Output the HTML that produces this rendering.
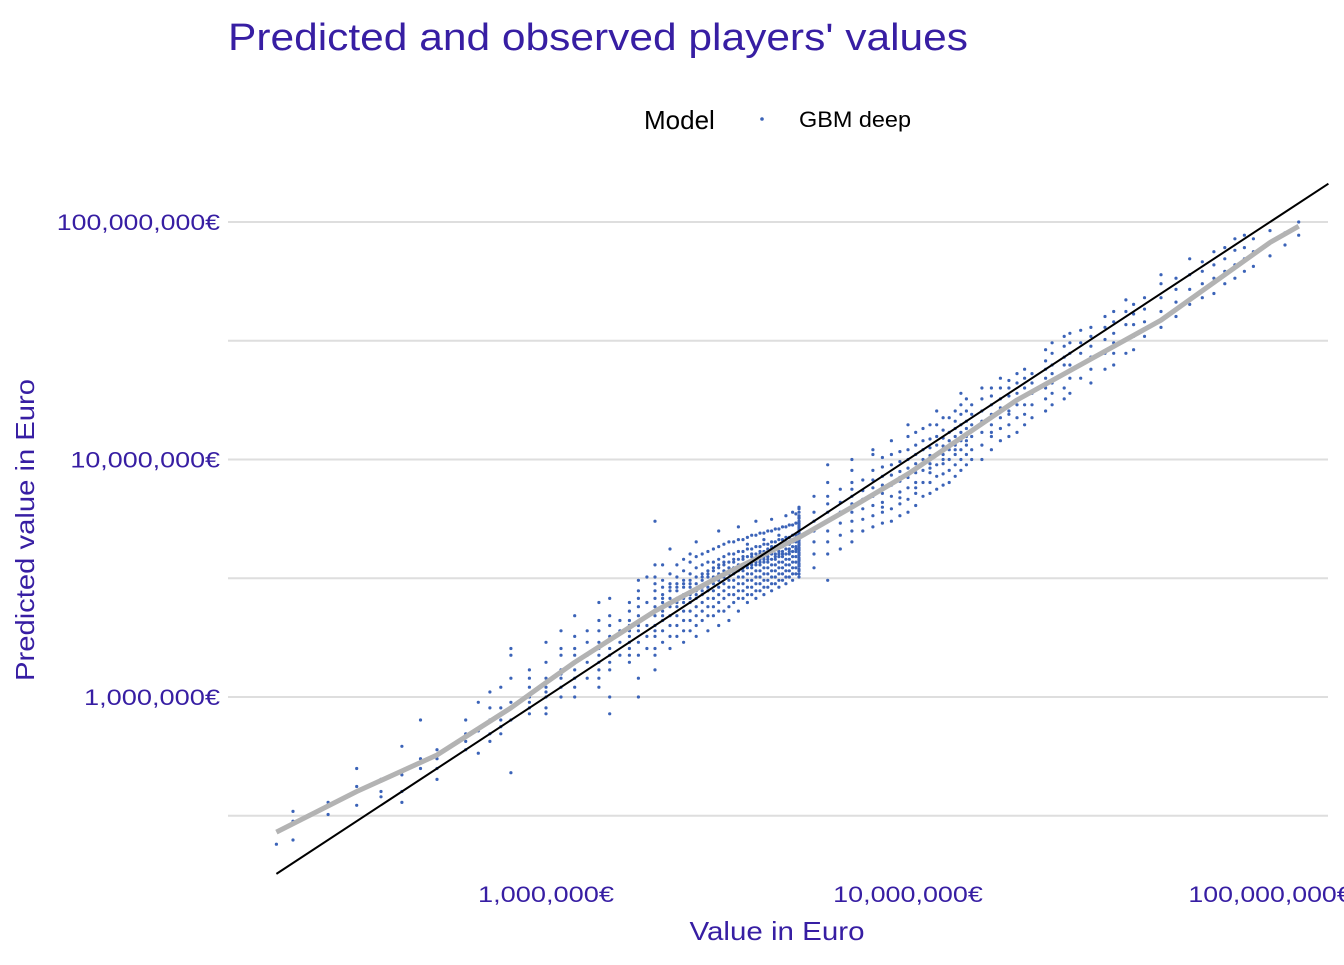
<!DOCTYPE html>
<html><head><meta charset="utf-8"><style>
body{margin:0;background:#fff;width:1344px;height:960px;overflow:hidden}
svg text{font-family:"Liberation Sans",Arial,sans-serif}
</style></head><body>
<svg width="1344" height="960" viewBox="0 0 1344 960">
<text x="228" y="50" font-size="38" textLength="740" lengthAdjust="spacingAndGlyphs" fill="#371ea3">Predicted and observed players' values</text>
<text x="644" y="129" font-size="26" fill="#000">Model</text>
<circle cx="762" cy="119" r="1.8" fill="#3b63b8"/>
<text x="799" y="127" font-size="22" textLength="112" lengthAdjust="spacingAndGlyphs" fill="#000">GBM deep</text>
<g id="grid"></g>
<g id="pts"></g>
<g id="lines"></g>
<g id="ticks"></g>
<text x="777" y="940" font-size="26" textLength="175" lengthAdjust="spacingAndGlyphs" fill="#371ea3" text-anchor="middle">Value in Euro</text>
<text transform="translate(34,530) rotate(-90)" font-size="26" textLength="302" lengthAdjust="spacingAndGlyphs" fill="#371ea3" text-anchor="middle">Predicted value in Euro</text>
</svg>
<script>
const majorTicks=[1e6,1e7,1e8];
const majorLabels=["1,000,000€","10,000,000€","100,000,000€"];
const minorTicks=[3.162e5,3.162e6,3.162e7];
const obsCols=[0.18,0.2,0.25,0.3,0.35,0.4,0.45,0.5,0.6,0.65,0.7,0.75,0.8,0.9,1.0,1.1,1.2,1.3,1.4,1.5,1.6,1.7,1.8,1.9,2.0,2.2,2.4,2.6,2.8,3.0,3.2,3.4,3.6,3.8,4.0,4.2,4.4,4.6,4.8,5.0,5.5,6.0,6.5,7.0,7.5,8.0,9.0,10,11,12,13,14,15,16,18,20,22,25,28,30,35,40,45,50,60,70,80,90,100,110,120,
2.1,2.3,2.5,2.7,2.9,3.1,3.3,3.5,3.7,3.9,4.1,4.3,4.5,4.7,4.9,5.0,8.5,9.5,10.5,11.5,12.5,13.5,14.5,17,19,21,24,27,32,37,42,55,65,75,85];
const predCols=[[0.24],[0.25,0.3,0.33],[0.32,0.36],[0.5,0.35,0.42],[0.38,0.45,0.4],[0.62,0.4,0.47,0.36],[0.8,0.55,0.5],[0.55,0.6,0.45,0.5],[0.6,0.7,0.8,0.65],[0.95,0.58,0.72],[1.05,0.8,0.7,0.9,0.65],[0.8,0.9,1.1,0.75,0.7,0.85],[1.5,1.6,0.9,0.8,0.48,0.95,1.2],[0.95,1.0,1.1,1.2,1.3,0.85,0.9],[1.2,1.4,1.1,1.0,0.9,0.85,1.05,1.7],[1.5,1.3,1.6,1.2,1.0,1.9,1.1,1.25],[2.2,1.8,1.4,1.5,1.3,1.2,1.1,1.0,1.6],[1.2,1.4,1.5,1.7,1.9],[2.5,1.9,1.7,1.6,1.5,1.4,1.3,1.2,1.1,2.1],[2.6,2.2,2.0,1.8,1.6,1.5,1.4,1.3,1.0,0.85],[1.5,1.7,1.9,2.1],[2.5,2.3,2.1,2.0,1.9,1.8,1.7,1.6,1.5,1.4],[3.1,2.8,2.4,2.2,2.0,1.9,1.7,1.5,1.2,1.0,2.6],[3.2,2.5,2.2,2.0,1.8,1.6],[5.5,3.6,3.2,3.0,2.8,2.6,2.4,2.2,2.0,1.9,1.8,1.6,1.5,1.3],
[2.0,2.2,2.4,2.6,2.8,3.0,3.3,1.8,1.6,4.2,2.5,2.9],[2.1,2.3,2.5,2.7,2.9,3.1,3.4,3.8,1.9,1.7,2.6,3.0],[2.2,2.4,2.6,2.8,3.0,3.2,3.5,3.9,4.5,2.0,1.8,2.7],[2.4,2.6,2.8,3.0,3.2,3.4,3.7,4.1,2.2,1.9,2.9,3.3],[2.5,2.7,2.9,3.1,3.3,3.5,3.8,4.3,5.0,2.3,2.0,3.2,3.6],[2.7,2.9,3.1,3.3,3.5,3.7,4.0,4.5,2.4,2.1,3.4],[2.8,3.0,3.2,3.4,3.6,3.8,4.1,4.6,5.2,2.6,2.3,3.5],[2.9,3.1,3.3,3.5,3.7,3.9,4.2,4.7,2.7,2.5,3.6,4.4],[3.0,3.2,3.4,3.6,3.8,4.0,4.3,4.8,5.5,2.8,2.6,3.7],[3.1,3.3,3.5,3.7,3.9,4.1,4.4,4.9,2.9,2.7,3.8,4.6],[3.2,3.4,3.6,3.8,4.0,4.2,4.5,5.0,5.6,3.0,2.8,4.3],[3.3,3.5,3.7,3.9,4.1,4.3,4.6,5.1,3.1,2.9,4.0,4.8],[3.4,3.6,3.8,4.0,4.2,4.4,4.7,5.2,5.8,3.2,3.0,4.5],[3.5,3.7,3.9,4.1,4.3,4.5,4.8,5.3,6.0,3.3,3.1,4.6],[3.6,3.8,4.0,4.2,4.4,4.6,4.9,5.4,6.2,3.4,3.2,4.7,5.7],
[3.5,4.0,4.5,5.0,5.5,6.0,7.0],[3.1,4.0,4.5,5.0,5.5,6.0,6.5,7.0,8.0,9.5],[4.2,4.8,5.4,6.0,6.6,7.5],[4.5,5.0,5.5,6.0,6.5,7.0,7.5,8.0,9.0,10.0],[5.0,5.6,6.2,6.8,7.4,8.2],[5.2,5.8,6.4,7.0,7.6,8.2,9.0,10.5,11],[5.5,6.2,7.0,7.8,8.6,9.5,10.5,12],[6.0,6.8,7.6,8.4,9.2,10,11,12.5,14],[7,8,9,10,11,12,13.5],[7.5,8.5,9.5,10.5,11.5,12.5,14,16],[8,9,10,11,12,13,15],[9,10,11,12,13,14,15.5,17,19],[10,11,12.5,14,15.5,17],[10,11.5,13,14.5,16,18,20],[12,13.5,15,16.5,18,20,22],[13,15,17,19,21,23],[15,17,19,21,23],[17,19,21,23,25,28,31],[19,22,25,28,31,34],[22,25,28,31,35],[24,28,32,36,40],[28,32,37,42,47],[33,38,43,48],[36,42,48,55,60],[45,52,60,70],[50,58,66,75],[58,66,76,85],[65,75,85],[72,82,92],[80,90],[88,100],
[1.9,2.1,2.3,2.5,2.7,2.9,3.1,1.7,3.6,2.2,2.6],[2.0,2.2,2.4,2.6,2.8,3.0,3.2,3.6,1.8,2.5,2.9],[2.1,2.3,2.5,2.7,2.9,3.1,3.3,3.7,4.0,1.9,2.6,3.0],[2.3,2.5,2.7,2.9,3.1,3.3,3.6,4.0,2.1,2.8,3.2],[2.4,2.6,2.8,3.0,3.2,3.4,3.7,4.2,2.2,3.1,3.5],[2.6,2.8,3.0,3.2,3.4,3.6,3.9,4.4,2.3,3.3,3.7],[2.7,2.9,3.1,3.3,3.5,3.7,4.0,4.5,2.5,3.4,3.8],[2.8,3.0,3.2,3.4,3.6,3.8,4.1,4.6,2.6,3.5,3.9],[2.9,3.1,3.3,3.5,3.7,3.9,4.2,4.8,2.7,3.6,4.0],[3.0,3.2,3.4,3.6,3.8,4.0,4.3,4.9,2.8,3.7,4.1],[3.1,3.3,3.5,3.7,3.9,4.1,4.4,5.0,2.9,3.8,4.2],[3.2,3.4,3.6,3.8,4.0,4.2,4.5,5.1,3.0,3.9,4.3],[3.3,3.5,3.7,3.9,4.1,4.3,4.6,5.2,3.1,4.0,4.4],[3.4,3.6,3.8,4.0,4.2,4.4,4.7,5.3,3.2,4.1,4.5],[3.5,3.7,3.9,4.1,4.3,4.5,4.8,5.4,3.3,4.2,4.6,5.9],[3.3,3.45,3.55,3.65,3.75,3.85,3.95,4.05,4.15,4.25,4.35,4.45,4.55,4.65,4.75,4.85,4.95,5.05,5.15,5.25,5.35,5.5,5.65,5.8,6.0,6.3],[5.4,6.0,6.6,7.2,7.8,8.5,9.3,10.2,6.3,7.5],[5.8,6.5,7.3,8.1,8.9,9.8,10.8,6.9,8.4],[6.4,7.2,8.0,8.8,9.6,10.5,11.5,13,7.6,9.1],[7.2,8.0,8.8,9.6,10.4,11.2,12.2,14,9.2],[7.8,8.7,9.6,10.5,11.4,12.3,13.3,15,10],[8.5,9.5,10.5,11.5,12.5,13.5,14.5,16,11],[9.5,10.5,11.5,12.5,13.5,14.5,16,18,12],[11,12.5,14,15.5,17,18.5,20,13],[12.5,14,15.5,17,18.5,20,21.5,16],[14,15.5,17,18.5,20,22,24],[16,18,20,22,24,26,29],[18,20,23,25,27,30,33],[21,24,27,30,33,36],[25,28,31,34,38,42],[29,33,37,41,45],[40,46,52,58],[48,55,62,68],[55,62,70,78],[62,70,78,88]];
const smoothObs=[0.18,0.3,0.5,0.8,1.0,1.2,2,3,5,7,10,20,50,100,120];
const smoothPred=[0.27,0.4,0.57,0.9,1.15,1.4,2.3,3.2,4.7,6.3,8.7,17.8,38.6,82,96];
const NS="http://www.w3.org/2000/svg";
const X=v=>546+362*Math.log10(v/1e6);
const Y=v=>697-237.5*Math.log10(v/1e6);
const L=228,R=1328,T=185,B=870;
function mk(t,a,p){const e=document.createElementNS(NS,t);for(const k in a)e.setAttribute(k,a[k]);document.getElementById(p).appendChild(e);return e;}
minorTicks.forEach(v=>{const e=mk('line',{x1:L,x2:R,y1:Y(v),y2:Y(v),stroke:'#dedede','stroke-width':2},'grid');

});
majorTicks.forEach((v,i)=>{const e=mk('line',{x1:L,x2:R,y1:Y(v),y2:Y(v),stroke:'#dedede','stroke-width':2},'grid');


const w=majorLabels[i].length*13.6;
const ty=mk('text',{x:220,y:Y(v)+8,'font-size':22,fill:'#371ea3','text-anchor':'end',textLength:w,lengthAdjust:'spacingAndGlyphs'},'ticks');ty.textContent=majorLabels[i];


const tx=mk('text',{x:X(v),y:902,'font-size':22,fill:'#371ea3','text-anchor':'middle',textLength:w,lengthAdjust:'spacingAndGlyphs'},'ticks');tx.textContent=majorLabels[i];

});
obsCols.forEach((o,i)=>{predCols[i].forEach(p=>{const c=mk('circle',{cx:X(o*1e6).toFixed(1),cy:Y(p*1e6).toFixed(1),r:1.6,fill:'#3b63b8'},'pts');

});});
const sp=mk('polyline',{points:smoothObs.map((o,i)=>X(o*1e6).toFixed(1)+','+Y(smoothPred[i]*1e6).toFixed(1)).join(' '),fill:'none',stroke:'#b3b3b3','stroke-width':5,'stroke-linejoin':'round'},'lines');


const d0=1.8e5,d1=1.45e8;
const dl=mk('line',{x1:X(d0),y1:Y(d0),x2:X(d1),y2:Y(d1),stroke:'#000','stroke-width':2},'lines');


</script>
</body></html>
